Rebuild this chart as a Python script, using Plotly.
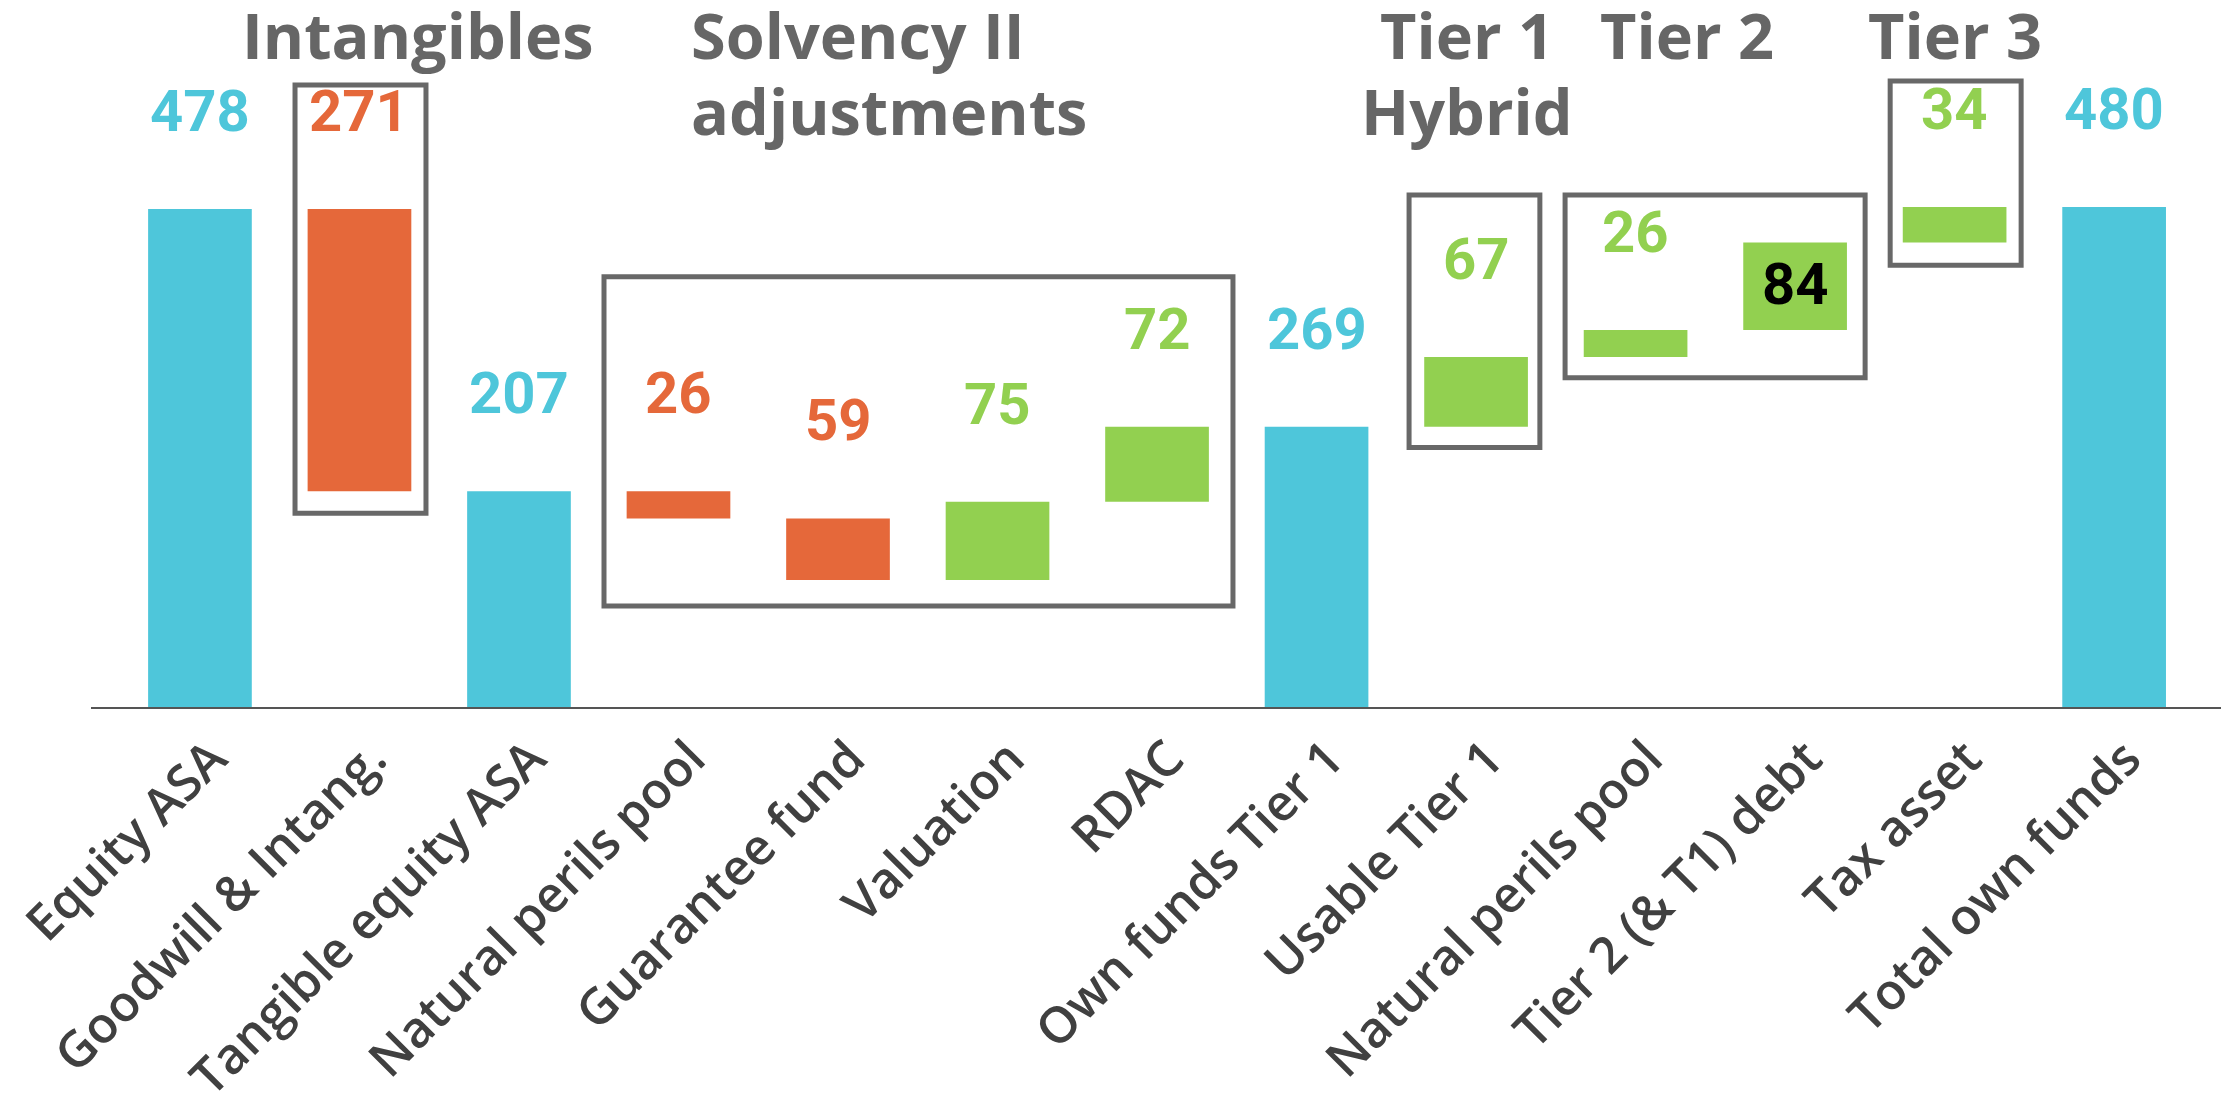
import numpy as np
import plotly.graph_objects as go

# Waterfall steps, from reported equity to total Solvency II own funds
categories = [
    "Equity ASA", "Goodwill & Intang.", "Tangible equity ASA", "Natural perils pool",
    "Guarantee fund", "Valuation", "RDAC", "Own funds Tier 1", "Usable Tier 1",
    "Natural perils pool", "Tier 2 (& T1) debt", "Tax asset", "Total own funds",
]
measures = [
    "absolute", "relative", "total", "relative", "relative", "relative", "relative",
    "total", "relative", "relative", "relative", "relative", "total",
]
deltas = [478, -271, 0, -26, -59, 75, 72, 0, 67, 26, 84, 34, 0]

# Group headings drawn above the bars (one entry per text line)
heading_lines = ["Intangibles", "Solvency II", "adjustments", "Tier 1", "Hybrid", "Tier 2", "Tier 3"]

CYAN = "#4EC6DA"
ORANGE = "#E5683A"
GREEN = "#92D050"
HEAD_GREY = "#666666"
BOX_GREY = "#686868"
LABEL_GREY = "#404040"

# Running totals -> bar bottom/top for label placement
starts, ends = [], []
running = 0.0
for m, d in zip(measures, deltas):
    if m == "absolute":
        s, e = 0.0, float(d)
    elif m == "total":
        s, e = 0.0, running
    else:
        s, e = running, running + d
    running = e
    starts.append(s)
    ends.append(e)
starts = np.array(starts)
ends = np.array(ends)
tops = np.maximum(starts, ends)
shown = np.where(np.array(measures) == "relative", np.abs(deltas), ends).astype(int)

x = list(range(len(categories)))

fig = go.Figure(go.Waterfall(
    x=x,
    y=deltas,
    measure=measures,
    width=0.65,
    increasing=dict(marker=dict(color=GREEN, line=dict(width=0))),
    decreasing=dict(marker=dict(color=ORANGE, line=dict(width=0))),
    totals=dict(marker=dict(color=CYAN, line=dict(width=0))),
    connector=dict(visible=False),
    hoverinfo="skip",
))

# Value labels above each bar (the Tier 2 debt value sits inside its bar)
annotations = []
for i, m in enumerate(measures):
    if m == "relative":
        color = GREEN if deltas[i] > 0 else ORANGE
    else:
        color = CYAN
    if categories[i] == "Tier 2 (& T1) debt":
        annotations.append(dict(
            x=i, y=(starts[i] + ends[i]) / 2, xref="x", yref="y",
            text=f"<b>{shown[i]}</b>", showarrow=False,
            font=dict(family="Roboto", size=58, color="#000000"),
            xanchor="center", yanchor="middle", yshift=2,
        ))
    else:
        annotations.append(dict(
            x=i, y=tops[i], xref="x", yref="y",
            text=f"<b>{shown[i]}</b>", showarrow=False,
            font=dict(family="Roboto", size=58, color=color),
            xanchor="center", yanchor="bottom", yshift=62,
        ))

# Headings: (text, x position, anchor, baseline y)
heading_layout = [
    (heading_lines[0], 1.367, "center", 621),
    (heading_lines[1], 3.066, "left", 621),
    (heading_lines[2], 3.066, "left", 548),
    (heading_lines[3], 7.94, "center", 621),
    (heading_lines[4], 7.94, "center", 548),
    (heading_lines[5], 9.32, "center", 621),
    (heading_lines[6], 11.0, "center", 621),
]
for text, hx, anchor, hy in heading_layout:
    annotations.append(dict(
        x=hx, y=hy, xref="x", yref="y", text=text, showarrow=False,
        font=dict(family="Open Sans", size=63, color=HEAD_GREY, weight=700),
        xanchor=anchor, yanchor="bottom", yshift=-19,
    ))

# Outline boxes grouping the adjustment steps
box_extents = [
    (0.596, 1.417, 186, 597),
    (2.533, 6.476, 97, 413),
    (7.58, 8.40, 249, 491.5),
    (8.558, 10.439, 316, 491.5),
    (10.596, 11.417, 424, 601),
]
shapes = [
    dict(type="rect", xref="x", yref="y", x0=a, x1=b, y0=c, y1=d,
         line=dict(color=BOX_GREY, width=5), fillcolor="rgba(0,0,0,0)", layer="above")
    for a, b, c, d in box_extents
]

fig.update_layout(
    width=2234, height=1108,
    margin=dict(l=91, r=13, t=0, b=401),
    paper_bgcolor="white", plot_bgcolor="white",
    showlegend=False,
    annotations=annotations,
    shapes=shapes,
    xaxis=dict(
        range=[-0.683, 12.67],
        tickmode="array", tickvals=x, ticktext=categories,
        tickangle=-45, ticks="",
        tickfont=dict(family="Open Sans", size=50, color=LABEL_GREY, weight=600),
        ticklabelshift=12,
        showgrid=False, zeroline=False,
        showline=True, linecolor="#555555", linewidth=2,
    ),
    yaxis=dict(range=[0, 678.7], visible=False, showgrid=False, zeroline=False),
)

fig.write_html("out.html")
